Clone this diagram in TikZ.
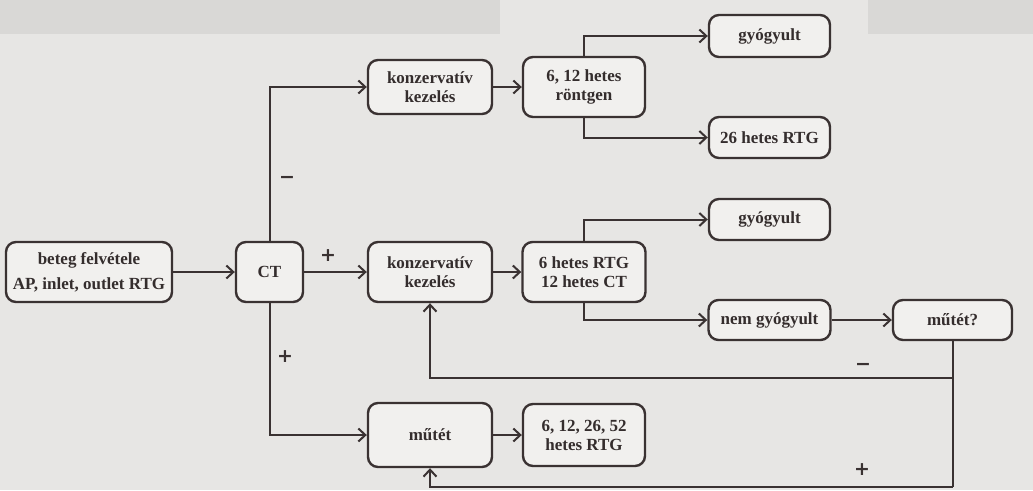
\documentclass[tikz,border=0pt]{standalone}
\usepackage{fontspec}
\setmainfont{Liberation Serif}
\newfontfamily\signfont{DejaVu Sans}
\usetikzlibrary{arrows.meta}
\definecolor{ink}{HTML}{3A3232}
\definecolor{paper}{HTML}{E7E6E4}
\definecolor{band}{HTML}{D9D8D6}
\definecolor{boxfill}{HTML}{F1F0EE}
\begin{document}
\begin{tikzpicture}[x=1pt,y=-1pt,
  flowbox/.style={draw=ink,fill=boxfill,line width=2.4pt,rounded corners=10pt,align=center,inner sep=0pt,
    font=\fontsize{17}{19}\selectfont\bfseries,text=ink!90!black},
  link/.style={draw=ink,line width=2pt,-{Straight Barb[length=7pt,width=13pt,line width=2pt]}},
  plain/.style={draw=ink,line width=2pt},
  sign/.style={font=\signfont\bfseries\fontsize{19}{19}\selectfont,text=ink,inner sep=0pt}]
\useasboundingbox (0,0) rectangle (1033,490);
\fill[paper] (0,0) rectangle (1033,490);
\fill[band] (0,0) rectangle (500,34);
\fill[band] (868,0) rectangle (1033,34);
% boxes
\node[flowbox,minimum width=166pt,minimum height=60pt,font=\fontsize{17}{25}\selectfont\bfseries] (beteg) at (89,272) {beteg felvétele\\AP, inlet, outlet RTG};
\node[flowbox,minimum width=67pt,minimum height=60pt] (ct) at (269.5,272) {CT};
\node[flowbox,minimum width=124pt,minimum height=54pt] (konzT) at (430,87) {konzervatív\\kezelés};
\node[flowbox,minimum width=124pt,minimum height=60pt] (konzM) at (430,272) {konzervatív\\kezelés};
\node[flowbox,minimum width=124pt,minimum height=64pt] (mutet) at (430,435) {műtét};
\node[flowbox,minimum width=122pt,minimum height=60pt] (rtgA) at (584,87) {6, 12 hetes\\röntgen};
\node[flowbox,minimum width=123pt,minimum height=60pt] (rtgB) at (584,272) {6 hetes RTG\\12 hetes CT};
\node[flowbox,minimum width=122pt,minimum height=62pt] (rtgC) at (584,435) {6, 12, 26, 52\\hetes RTG};
\node[flowbox,minimum width=121pt,minimum height=42pt] (gyA) at (769.5,36) {gyógyult};
\node[flowbox,minimum width=121pt,minimum height=41pt] (rtg26) at (769.5,137.5) {26 hetes RTG};
\node[flowbox,minimum width=121pt,minimum height=41pt] (gyB) at (769.5,219.5) {gyógyult};
\node[flowbox,minimum width=122pt,minimum height=40pt] (nemgy) at (769.5,320) {nem gyógyult};
\node[flowbox,minimum width=119pt,minimum height=40pt] (mq) at (952.5,320) {műtét?};
% connectors
\draw[link] (beteg) -- (ct);
\draw[link] (ct) -- (konzM);
\draw[link] (ct.north) |- (konzT.west);
\draw[link] (ct.south) |- (mutet.west);
\draw[link] (konzT) -- (rtgA);
\draw[link] (konzM) -- (rtgB);
\draw[link] (mutet) -- (rtgC);
\draw[link] (rtgA.north) |- (gyA.west);
\draw[link] (rtgA.south) |- (rtg26.west);
\draw[link] (rtgB.north) |- (gyB.west);
\draw[link] (rtgB.south) |- (nemgy.west);
\draw[link] (nemgy) -- (mq);
\coordinate (split) at (952.5,378);
\coordinate (low) at (952.5,487);
\draw[plain] (mq.south) -- (low);
\draw[link] (split) -| (konzM.south);
\draw[link] (low) -| (mutet.south);
% signs
\node[sign] (s1) at (287,180) {−};
\node[sign] (s2) at (328,256) {+};
\node[sign] (s3) at (285,357) {+};
\node[sign] (s4) at (863,367) {−};
\node[sign] (s5) at (862,470) {+};
\end{tikzpicture}
\end{document}
